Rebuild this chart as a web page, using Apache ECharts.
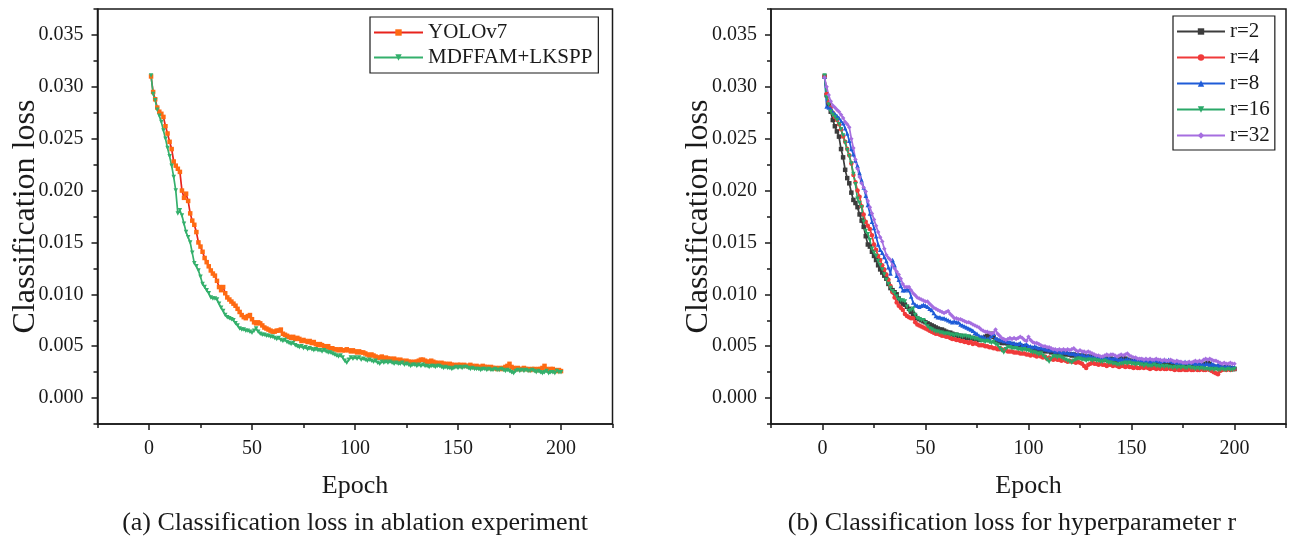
<!DOCTYPE html>
<html>
<head>
<meta charset="utf-8">
<script src="https://cdn.jsdelivr.net/npm/echarts@6/dist/echarts.min.js"></script>
<style>
html,body{margin:0;padding:0;background:#fff;}
#chart{width:1293px;height:545px;}
</style>
</head>
<body>
<div id="chart"></div>
<script>
// ---- data (loss values in units of 1e-4) ----
const SCALE = 1e-4;
const epochs = Array.from({length: 200}, (_, i) => i + 1);
const xMajorTicks = [0, 50, 100, 150, 200];
const xMinorTicks = [-25, 25, 75, 125, 175, 225];
const yMajorTicks = [0, 0.005, 0.01, 0.015, 0.02, 0.025, 0.03, 0.035];
const yMinorTicks = [-0.0025, 0.0025, 0.0075, 0.0125, 0.0175, 0.0225, 0.0275, 0.0325, 0.0375];

const yolov7 = [
310,295,288,280,276,274,271,262,255,247,240,228,224,221,218,200,193,197,190,178,
171,167,160,150,146,141,135,131,127,123,120,118,113,107,104,107,101,97,95,93,
91,89,86,83,80,78,77,79,80,76,73,72,73,72,70,68,67,66,65,64,
64,65,65,66,62,61,60,59,58,59,57,58,57,55,56,55,54,55,53,54,
52,51,52,51,50,49,50,48,48,47,47,46,47,46,46,47,46,45,46,45,
44,45,44,44,43,42,41,42,41,40,39,39,40,38,39,38,38,37,38,37,
36,37,36,35,36,35,35,34,35,35,36,37,37,36,35,35,36,35,34,34,
33,34,33,33,32,33,32,32,31,32,32,31,32,31,31,32,31,30,31,30,
30,31,30,30,29,30,29,29,28,29,28,29,30,31,33,30,29,28,29,28,
28,29,28,28,27,28,28,27,28,28,29,31,28,27,28,28,27,26,27,26];

const mdffam = [
311,293,287,278,272,266,258,250,241,233,224,213,200,178,181,176,168,160,155,150,
140,130,127,123,117,110,107,104,101,97,96,96,95,91,87,84,80,78,77,76,
75,72,70,67,66,66,65,65,64,63,65,67,64,62,61,61,60,60,59,59,
58,57,58,56,55,56,54,53,52,53,51,50,49,50,48,49,47,48,47,46,
47,46,46,45,46,45,44,44,43,42,41,40,41,39,36,34,37,39,38,39,
38,39,37,38,37,36,37,36,35,36,34,33,35,34,35,34,35,34,33,34,
33,33,34,32,33,32,31,32,32,31,32,31,32,31,31,30,31,31,30,31,
31,30,29,30,29,29,28,29,30,29,30,29,30,30,29,28,29,28,28,28,
27,28,28,27,28,27,27,28,27,27,28,27,26,27,26,25,24,26,27,26,
27,26,27,26,26,27,26,25,26,25,24,25,26,24,25,25,24,26,25,25];

const r2 = [
310,292,283,276,268,262,257,252,240,232,220,212,207,198,191,188,184,177,171,165,
156,148,146,141,137,133,128,124,121,118,115,110,106,104,102,100,96,93,91,90,
88,86,83,81,79,77,76,75,74,73,72,71,70,69,68,67,66,66,65,64,
63,63,62,61,61,60,60,59,59,58,59,57,58,57,57,56,57,58,59,60,
61,62,59,56,55,54,53,54,53,52,51,52,51,50,51,50,49,50,49,48,
48,47,48,47,46,47,46,45,46,45,44,45,44,43,44,43,42,43,42,42,
41,42,41,41,40,41,40,40,39,40,39,39,38,39,38,38,37,38,37,38,
37,37,36,37,38,39,38,37,36,36,35,36,35,35,34,35,34,34,33,34,
33,34,33,33,32,33,32,33,32,32,31,32,31,32,31,31,30,31,30,31,
30,31,30,31,32,33,34,33,31,30,30,29,30,29,29,30,29,29,28,28];

const r4 = [
310,293,285,280,275,271,268,264,259,252,247,240,234,226,215,208,200,194,185,177,
170,166,163,157,148,143,137,133,128,124,119,114,108,102,97,92,89,87,85,81,
79,78,77,77,73,71,70,69,68,67,66,65,64,63,62,62,61,60,60,59,
59,58,57,57,56,56,55,55,54,54,53,54,52,53,52,51,51,51,50,50,
49,49,48,48,47,47,47,46,46,45,45,45,44,44,44,43,43,43,42,42,
41,42,41,40,41,40,39,40,38,39,38,37,38,37,37,36,37,36,35,36,
35,35,34,35,34,33,31,29,32,33,34,33,33,32,33,32,32,31,32,32,
31,32,31,30,31,31,30,31,30,30,29,30,29,29,30,29,30,29,28,29,
29,28,29,28,29,28,28,29,28,28,27,28,27,27,28,27,27,28,27,27,
28,27,27,28,27,27,28,27,26,25,24,23,26,27,28,27,28,27,28,28];

const r8 = [
310,281,280,279,276,274,272,270,267,265,260,255,248,240,235,229,224,217,210,203,
195,186,178,170,164,156,148,143,140,136,132,126,120,133,128,118,114,108,104,104,
105,104,98,92,90,89,88,89,90,89,88,86,85,82,79,78,78,77,77,76,
75,74,73,74,73,73,71,70,69,68,67,66,65,63,62,60,59,59,58,57,
58,60,62,58,57,56,56,55,55,54,54,53,53,52,52,53,51,51,52,50,
50,49,50,49,48,49,48,47,47,46,47,46,45,46,45,44,45,44,44,43,
43,43,42,43,41,42,41,40,41,40,40,39,40,39,39,38,39,38,39,38,
38,39,38,37,38,37,37,38,37,36,37,37,36,37,36,37,36,36,35,36,
36,37,36,35,36,37,36,37,36,35,35,34,35,34,34,35,34,33,34,34,
33,34,33,33,32,33,33,32,33,32,31,32,31,31,30,31,31,30,30,30];

const r16 = [
311,290,283,276,273,271,268,264,259,253,246,239,233,226,216,206,192,188,184,170,
161,158,152,144,140,137,132,128,124,119,114,110,106,103,101,98,95,94,94,93,
88,84,85,86,80,77,76,75,75,72,69,67,66,65,64,64,63,63,62,62,
62,61,61,60,61,60,60,59,60,59,59,58,58,57,57,56,55,55,54,55,
54,53,54,52,51,48,46,44,47,49,49,48,48,48,47,47,46,47,46,46,
45,44,44,43,42,43,41,39,37,35,38,40,40,39,40,39,38,37,36,35,
34,36,37,38,38,37,37,36,37,37,36,37,36,36,35,35,36,35,34,34,
33,33,32,32,33,33,34,33,34,33,33,32,33,32,32,31,32,31,31,31,
32,31,31,30,31,30,31,30,30,29,30,29,30,29,30,29,29,30,29,29,
28,29,28,29,28,28,28,27,28,27,28,27,27,28,27,27,28,27,27,28];

const r32 = [
309,300,292,286,282,280,278,276,273,270,266,264,261,250,241,230,221,213,207,203,
199,190,184,178,172,166,160,155,151,144,138,135,133,128,125,122,119,115,110,107,
107,107,104,101,99,97,96,95,94,93,93,91,89,87,86,85,84,83,82,83,
84,81,79,77,77,76,76,75,74,73,73,72,71,70,69,68,66,65,64,64,
63,62,63,66,62,60,58,57,56,57,58,57,58,57,58,59,58,56,55,59,
56,54,53,53,52,51,50,50,49,49,48,47,47,46,47,46,47,46,47,46,
47,48,46,45,46,45,45,44,45,44,43,42,41,41,40,40,41,42,41,42,
42,41,40,41,42,41,42,43,41,40,39,39,38,38,38,37,38,37,38,37,
37,38,37,37,36,37,36,36,37,36,35,36,35,35,34,34,34,35,34,35,
36,35,36,35,37,38,37,38,37,36,36,35,34,33,34,33,33,34,33,33];

// ---- chart ----
const FONT = '"Liberation Serif", "Times New Roman", serif';
const INK = '#1a1a1a';

function xAxes(gridIndex) {
  return [
    {
      type: 'value', gridIndex: gridIndex, min: -25, max: 225, interval: 25, position: 'bottom',
      axisLine: {show: true, onZero: false, lineStyle: {color: INK, width: 1.5}},
      axisTick: {show: true, inside: false, length: 6, customValues: xMajorTicks, lineStyle: {color: INK, width: 1.5}},
      axisLabel: {show: true, customValues: xMajorTicks, fontSize: 20, fontFamily: FONT, color: INK, margin: 15},
      splitLine: {show: false},
      name: 'Epoch', nameLocation: 'middle', nameGap: 49,
      nameTextStyle: {fontSize: 26, fontFamily: FONT, color: INK}
    },
    {
      type: 'value', gridIndex: gridIndex, min: -25, max: 225, interval: 25, position: 'bottom',
      axisLine: {show: false, onZero: false},
      axisTick: {show: true, inside: false, length: 4, customValues: xMinorTicks, lineStyle: {color: INK, width: 1.5}},
      axisLabel: {show: false},
      splitLine: {show: false}
    }
  ];
}
function yAxes(gridIndex) {
  return [
    {
      type: 'value', gridIndex: gridIndex, min: -0.0025, max: 0.0375, interval: 0.0025, position: 'left',
      axisLine: {show: true, onZero: false, lineStyle: {color: INK, width: 1.5}},
      axisTick: {show: true, inside: false, length: 6, customValues: yMajorTicks, lineStyle: {color: INK, width: 1.5}},
      axisLabel: {show: true, customValues: yMajorTicks, fontSize: 20, fontFamily: FONT, color: INK, margin: 14,
        formatter: function (v) { return v.toFixed(3); }},
      splitLine: {show: false},
      name: 'Classification loss', nameLocation: 'middle', nameGap: 56, nameMoveOverlap: false,
      nameTextStyle: {fontSize: 32, fontFamily: FONT, color: INK}
    },
    {
      type: 'value', gridIndex: gridIndex, min: -0.0025, max: 0.0375, interval: 0.0025, position: 'left',
      axisLine: {show: false, onZero: false},
      axisTick: {show: true, inside: false, length: 4, customValues: yMinorTicks, lineStyle: {color: INK, width: 1.5}},
      axisLabel: {show: false},
      splitLine: {show: false}
    }
  ];
}

function lineSeries(name, arr, axisIdx, lineColor, markColor, symbol, rotate) {
  return {
    name: name, type: 'line', xAxisIndex: axisIdx, yAxisIndex: axisIdx,
    data: epochs.map(function (e, i) { return [e, arr[i] * SCALE]; }),
    showSymbol: true, symbol: symbol, symbolSize: 4.5, symbolRotate: rotate || 0,
    lineStyle: {color: lineColor, width: 1.7},
    itemStyle: {color: markColor},
    emphasis: {disabled: true},
    animation: false
  };
}

const legendText = {fontSize: 21, fontFamily: FONT, color: INK};

const option = {
  backgroundColor: '#ffffff',
  animation: false,
  grid: [
    {left: 97.5, right: 680.5, top: 9, bottom: 121, show: true, borderColor: INK, borderWidth: 1.5, backgroundColor: 'transparent'},
    {left: 771, right: 7, top: 9, bottom: 121, show: true, borderColor: INK, borderWidth: 1.5, backgroundColor: 'transparent'}
  ],
  xAxis: xAxes(0).concat(xAxes(1)),
  yAxis: yAxes(0).concat(yAxes(1)),
  legend: [
    {
      data: ['YOLOv7', 'MDFFAM+LKSPP'], orient: 'vertical', left: 370, top: 17,
      itemWidth: 49, itemHeight: 8, itemGap: 4, padding: [5, 6, 5, 3],
      borderColor: INK, borderWidth: 1.2, textStyle: legendText, selectedMode: false
    },
    {
      data: ['r=2', 'r=4', 'r=8', 'r=16', 'r=32'], orient: 'vertical', left: 1173, top: 16,
      itemWidth: 48, itemHeight: 8, itemGap: 5, padding: [5, 5, 4, 3],
      borderColor: INK, borderWidth: 1.2, textStyle: legendText, selectedMode: false
    }
  ],
  series: [
    lineSeries('YOLOv7', yolov7, 0, '#e8231c', '#ff6a12', 'rect'),
    lineSeries('MDFFAM+LKSPP', mdffam, 0, '#34b06c', '#34b06c', 'triangle', 180),
    lineSeries('r=2', r2, 2, '#3c3c3c', '#3c3c3c', 'rect'),
    lineSeries('r=4', r4, 2, '#f03a3a', '#f03a3a', 'circle'),
    lineSeries('r=8', r8, 2, '#1f5cd8', '#1f5cd8', 'triangle'),
    lineSeries('r=16', r16, 2, '#2aa868', '#2aa868', 'triangle', 180),
    lineSeries('r=32', r32, 2, '#a66ee0', '#a66ee0', 'diamond')
  ],
  graphic: [
    {type: 'text', x: 355, y: 523, style: {text: '(a) Classification loss in ablation experiment',
      fontSize: 26, fontFamily: FONT, fill: INK, align: 'center', verticalAlign: 'middle'}},
    {type: 'text', x: 1012, y: 523, style: {text: '(b) Classification loss for hyperparameter r',
      fontSize: 26, fontFamily: FONT, fill: INK, align: 'center', verticalAlign: 'middle'}}
  ]
};

const chart = echarts.init(document.getElementById('chart'), null, {renderer: 'canvas'});
chart.setOption(option);
</script>
</body>
</html>
